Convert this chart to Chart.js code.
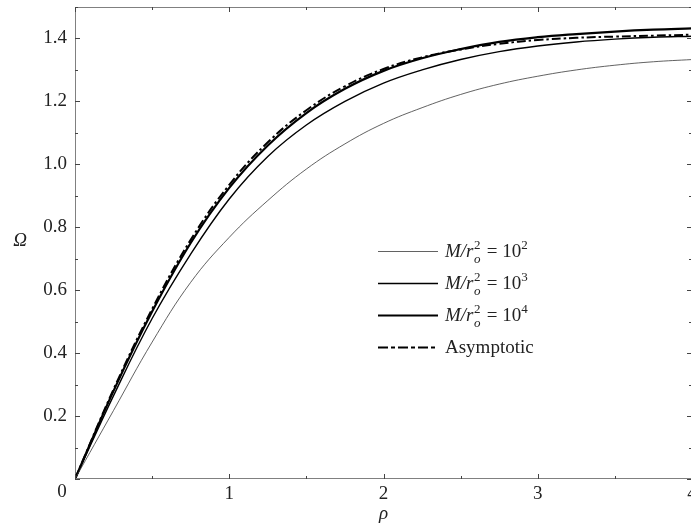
<!DOCTYPE html>
<html>
<head>
<meta charset="utf-8">
<script src="https://cdn.jsdelivr.net/npm/chart.js@4/dist/chart.umd.min.js"></script>
<style>
  html, body { margin: 0; padding: 0; overflow: hidden; background: #fff; }
  canvas { display: block; }
</style>
</head>
<body>
<canvas id="omega_chart" width="700" height="528"></canvas>
<script>
// rho grid and read-off values of Omega for each curve
const rho = [0, 0.25, 0.5, 0.75, 1.0, 1.25, 1.5, 1.75, 2.0, 2.25, 2.5, 2.75, 3.0, 3.25, 3.5, 3.75, 4.0];
const omega_1e2 = [0, 0.218, 0.435, 0.625, 0.768, 0.885, 0.985, 1.065, 1.13, 1.18, 1.222, 1.255, 1.28, 1.30, 1.315, 1.326, 1.333];
const omega_1e3 = [0, 0.265, 0.51, 0.715, 0.89, 1.025, 1.125, 1.20, 1.258, 1.30, 1.333, 1.358, 1.376, 1.389, 1.398, 1.404, 1.407];
const omega_1e4 = [0, 0.28, 0.532, 0.75, 0.925, 1.06, 1.163, 1.24, 1.297, 1.337, 1.366, 1.389, 1.404, 1.414, 1.422, 1.428, 1.432];
const omega_asym = [0, 0.285, 0.54, 0.76, 0.935, 1.07, 1.172, 1.248, 1.303, 1.34, 1.365, 1.383, 1.395, 1.402, 1.406, 1.409, 1.412];

const x_ticks = [0, 1, 2, 3, 4];
const y_ticks = [0, 0.2, 0.4, 0.6, 0.8, 1.0, 1.2, 1.4];
const legend_exps = ['2', '3', '4'];

const SERIF = '"Liberation Serif", "DejaVu Serif", serif';

function pts(ys) {
    return rho.map(function (r, i) { return { x: r, y: ys[i] }; });
}

// frame, inside ticks, corner zero, axis titles and the legend
const decorations = {
    id: 'decorations',
    afterDraw: function (chart) {
        const c = chart.ctx;
        const a = chart.chartArea;
        const xs = chart.scales.x, ys = chart.scales.y;
        c.save();
        c.strokeStyle = '#808080';
        c.lineWidth = 1;
        c.strokeRect(a.left + 0.5, a.top + 0.5, a.right - a.left - 1, a.bottom - a.top - 1);
        c.strokeStyle = '#444';
        c.beginPath();
        for (let v = 0; v <= 4.001; v += 0.5) {
            const px = Math.round(xs.getPixelForValue(v)) + 0.5;
            const len = (Math.abs(v - Math.round(v)) < 0.01) ? 5 : 3;
            c.moveTo(px, a.bottom); c.lineTo(px, a.bottom - len);
            c.moveTo(px, a.top); c.lineTo(px, a.top + len);
        }
        for (let v = 0; v <= 1.501; v += 0.1) {
            const py = Math.round(ys.getPixelForValue(v)) + 0.5;
            const len = (Math.round(v * 10) % 2 === 0) ? 5 : 3;
            c.moveTo(a.left, py); c.lineTo(a.left + len, py);
            c.moveTo(a.right, py); c.lineTo(a.right - len, py);
        }
        c.stroke();

        c.fillStyle = '#222';
        c.textAlign = 'center';
        c.textBaseline = 'middle';
        c.font = '19px ' + SERIF;
        c.fillText('0', a.left - 13, a.bottom + 13);
        c.font = 'italic 19px ' + SERIF;
        c.fillText('\u03A9', 20, 241);
        c.fillText('\u03C1', xs.getPixelForValue(2), 514);

        // legend
        const lx0 = 378, lx1 = 438, tx = 445;
        const rows = [257, 289, 321, 353];
        chart.data.datasets.forEach(function (ds, i) {
            const by = rows[i];
            c.save();
            c.strokeStyle = ds.borderColor;
            c.lineWidth = ds.borderWidth;
            c.setLineDash(i === 3 ? [10, 3, 4, 3] : []);
            c.beginPath();
            c.moveTo(lx0, by - 5.5); c.lineTo(lx1, by - 5.5);
            c.stroke();
            c.restore();
            c.textAlign = 'left';
            c.textBaseline = 'alphabetic';
            c.fillStyle = '#222';
            if (i === 3) {
                c.font = '19px ' + SERIF;
                c.fillText('Asymptotic', tx, by);
                return;
            }
            let x = tx;
            c.font = 'italic 19px ' + SERIF;
            c.fillText('M/r', x, by);
            x += c.measureText('M/r').width + 0.5;
            c.font = '13px ' + SERIF;
            c.fillText('2', x, by - 8);
            c.font = 'italic 13px ' + SERIF;
            c.fillText('o', x, by + 6);
            x += 8;
            c.font = '19px ' + SERIF;
            c.fillText(' = 10', x, by);
            x += c.measureText(' = 10').width;
            c.font = '13px ' + SERIF;
            c.fillText(legend_exps[i], x, by - 8);
        });
        c.restore();
    }
};

const ctx = document.getElementById('omega_chart').getContext('2d');
const myChart = new Chart(ctx, {
    type: 'line',
    data: {
        datasets: [{
            label: 'M/r_o^2 = 10^2',
            data: pts(omega_1e2),
            borderColor: '#3a3a3a',
            borderWidth: 0.8,
        }, {
            label: 'M/r_o^2 = 10^3',
            data: pts(omega_1e3),
            borderColor: '#000',
            borderWidth: 1.4,
        }, {
            label: 'M/r_o^2 = 10^4',
            data: pts(omega_1e4),
            borderColor: '#000',
            borderWidth: 2.2,
        }, {
            label: 'Asymptotic',
            data: pts(omega_asym),
            borderColor: '#000',
            borderWidth: 2,
            borderDash: [9, 3, 2.5, 3],
        }]
    },
    options: {
        responsive: false,
        animation: false,
        layout: { autoPadding: false, padding: { top: 7, right: 8, left: 0, bottom: 0 } },
        elements: {
            point: { radius: 0 },
            line: { tension: 0.4, fill: false }
        },
        plugins: { legend: { display: false }, tooltip: { enabled: false } },
        scales: {
            x: {
                type: 'linear',
                min: 0, max: 4,
                afterFit: function (s) {
                    s.height = 49;
                    s.paddingLeft = 0; s.paddingRight = 0;
                },
                afterBuildTicks: function (s) { s.ticks = x_ticks.map(function (v) { return { value: v }; }); },
                grid: { display: false, drawTicks: false },
                border: { display: false },
                ticks: {
                    padding: 4,
                    color: '#222',
                    font: { family: SERIF, size: 19 },
                    maxRotation: 0,
                    callback: function (v) { return v === 0 ? '' : String(v); }
                }
            },
            y: {
                min: 0, max: 1.5,
                afterFit: function (s) {
                    s.width = 75;
                    s.paddingTop = 0; s.paddingBottom = 0;
                },
                afterBuildTicks: function (s) { s.ticks = y_ticks.map(function (v) { return { value: v }; }); },
                grid: { display: false, drawTicks: false },
                border: { display: false },
                ticks: {
                    padding: 8,
                    color: '#222',
                    font: { family: SERIF, size: 19 },
                    callback: function (v) { return v === 0 ? '' : v.toFixed(1); }
                }
            }
        }
    },
    plugins: [decorations]
});
</script>
</body>
</html>
